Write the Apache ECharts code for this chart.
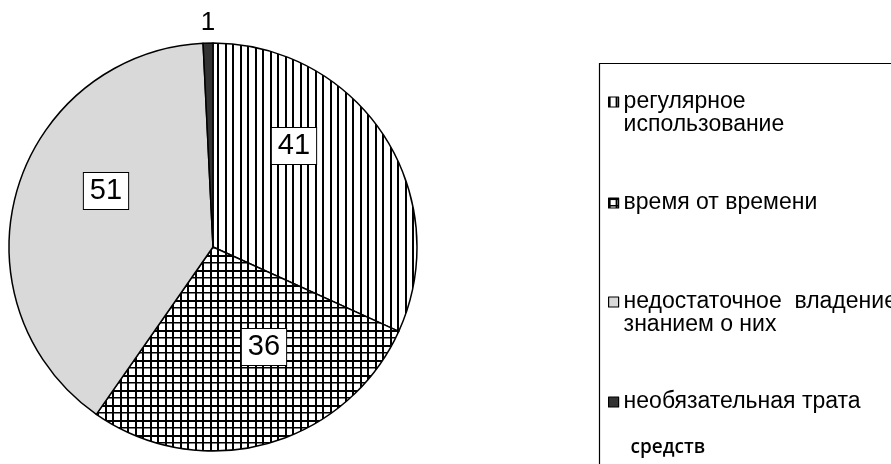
<!DOCTYPE html>
<html><head><meta charset="utf-8">
<script src="https://cdn.jsdelivr.net/npm/echarts@6/dist/echarts.min.js"></script>
<style>html,body{margin:0;padding:0;background:#fff}#c{width:891px;height:464px}</style>
</head><body><div id="c"></div>
<script>
// ---- data ----
const categories = ['регулярное использование', 'время от времени', 'недостаточное владение знанием о них', 'необязательная трата средств'];
const values = [41, 36, 51, 1];

// ---- styling helpers ----
function makePattern(kind, bg) {
  const c = document.createElement('canvas');
  c.width = 15; c.height = 15;
  const g = c.getContext('2d');
  g.fillStyle = bg || '#ffffff';
  g.fillRect(0, 0, 15, 15);
  g.fillStyle = '#000000';
  g.fillRect(0, 0, 2, 15);
  g.fillRect(7, 0, 2, 15);
  if (kind === 'grid') {
    g.fillRect(0, 0, 15, 2);
    g.fillRect(0, 7, 15, 1.5);
  }
  return { image: c, repeat: 'repeat' };
}
const fills = [makePattern('stripes'), makePattern('grid'), '#d9d9d9', '#333333'];
const labelPos = [[294, 146], [264, 347], [106, 191], [208, 23]];
const labelBoxed = [true, true, true, false];

const FONT = '"Liberation Sans", Arial, sans-serif';
const LH = 23;
const legendText = [
  '\nрегулярное\nиспользование',
  'время от времени',
  '\nнедостаточное  владение\nзнанием о них',
  '\n\nнеобязательная трата\n\n{s|средств}'
];
const legendTops = [67.5, 191.5, 267.5, 344.5];

const chart = echarts.init(document.getElementById('c'), null, { renderer: 'canvas' });

const data = categories.map((n, i) => ({
  name: n,
  value: values[i],
  itemStyle: { color: fills[i] },
  label: labelBoxed[i] ? {
    backgroundColor: '#fff', borderColor: '#000', borderWidth: 1, padding: [4, 6, 3, 6],
    fontSize: 29
  } : { fontSize: 26 }
}));

const legends = categories.map((n, i) => ({
  data: [n],
  left: 608,
  top: legendTops[i],
  padding: 0,
  orient: 'vertical',
  icon: 'rect',
  itemWidth: 10,
  itemHeight: 10,
  selectedMode: false,
  itemStyle: { borderColor: '#000', borderWidth: 1.2 },
  formatter: () => legendText[i],
  textStyle: {
    fontFamily: FONT, fontSize: 23, color: '#000', lineHeight: LH,
    rich: {
      s: { fontFamily: '"Open Sans", sans-serif', fontWeight: 600, fontSize: 19, color: '#000', lineHeight: LH, padding: [0, 0, 0, 7] }
    }
  }
}));

chart.setOption({
  animation: false,
  backgroundColor: '#fff',
  legend: legends,
  graphic: [{
    type: 'rect', silent: true,
    shape: { x: 599.5, y: 63.5, width: 400, height: 500 },
    style: { fill: 'none', stroke: '#000', lineWidth: 1.2 }
  }],
  series: [{
    type: 'pie',
    center: [213, 247],
    radius: 204,
    startAngle: 90,
    clockwise: true,
    avoidLabelOverlap: false,
    emphasis: { disabled: true },
    itemStyle: { borderColor: '#000', borderWidth: 1.5 },
    label: {
      show: true, position: 'inside', formatter: '{c}',
      fontFamily: FONT, color: '#000'
    },
    labelLine: { show: false },
    labelLayout: function (p) {
      const q = labelPos[p.dataIndex];
      return { x: q[0], y: q[1], align: 'center', verticalAlign: 'middle' };
    },
    data: data
  }]
});
</script></body></html>
